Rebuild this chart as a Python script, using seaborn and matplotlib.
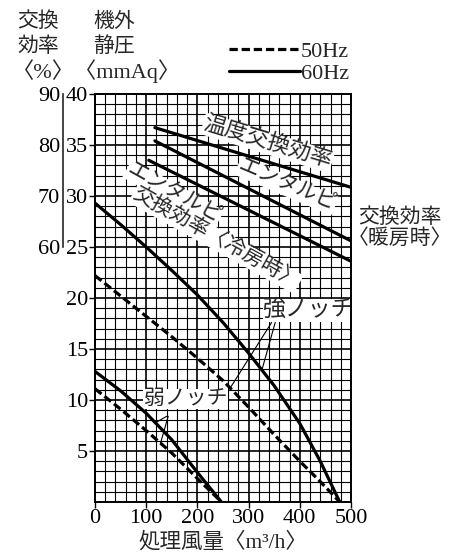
import matplotlib.pyplot as plt
import numpy as np
import pandas as pd
import seaborn as sns
from matplotlib.ticker import MultipleLocator

# 機外静圧 [mmAq] ― 処理風量 [m3/h]
flow_strong = [0, 50, 100, 150, 200, 250, 300, 350, 400, 440, 478]
sp_strong_60 = [29.3, 27.2, 25.0, 22.7, 20.3, 17.6, 14.6, 11.4, 7.7, 4.0, 0]
sp_strong_50 = [22.2, 20.2, 18.2, 16.2, 14.1, 11.9, 9.3, 6.6, 4.0, 2.0, 0]
flow_weak = [0, 50, 100, 150, 200, 247]
sp_weak_60 = [12.8, 10.9, 8.7, 6.1, 2.9, 0]
sp_weak_50 = [11.1, 9.1, 7.0, 4.8, 2.3, 0]

# 交換効率 [%]
flow_temp = [117, 500]
eff_temp = [83.4, 71.7]
flow_heat = [117, 500]
eff_heat = [80.8, 61.2]
flow_cool = [105, 500]
eff_cool = [77.0, 57.2]

freq_order = ["50Hz", "60Hz"]

sp_rows = []
for notch, hz, flows, vals in [("強", "60Hz", flow_strong, sp_strong_60),
                               ("強", "50Hz", flow_strong, sp_strong_50),
                               ("弱", "60Hz", flow_weak, sp_weak_60),
                               ("弱", "50Hz", flow_weak, sp_weak_50)]:
    for f, v in zip(flows, vals):
        sp_rows.append({"風量": f, "静圧": v, "curve": notch + hz, "周波数": hz})
df_sp = pd.DataFrame(sp_rows)

eff_rows = []
for name, flows, vals in [("温度", flow_temp, eff_temp),
                          ("暖房", flow_heat, eff_heat),
                          ("冷房", flow_cool, eff_cool)]:
    for f, v in zip(flows, vals):
        eff_rows.append({"風量": f, "効率": v, "curve": name})
df_eff = pd.DataFrame(eff_rows)

sns.set_style("ticks")
plt.rcParams["font.family"] = ["Liberation Serif", "Noto Sans CJK JP"]
plt.rcParams["axes.unicode_minus"] = False

fig = plt.figure(figsize=(4.6, 5.6), dpi=100)
ax = fig.add_axes([0.2065, 0.1036, 0.5565, 0.7286])

sns.lineplot(data=df_sp, x="風量", y="静圧", units="curve", style="周波数",
             style_order=freq_order, dashes={"50Hz": (2.6, 1.2), "60Hz": ""},
             estimator=None, sort=False, color="black", lw=2.3, ax=ax, zorder=3)

ax.set_xlim(0, 500)
ax.set_ylim(0, 40)
ax.set_xticks(range(0, 501, 100))
ax.set_yticks(range(5, 41, 5))
ax.xaxis.set_minor_locator(MultipleLocator(20))
ax.yaxis.set_minor_locator(MultipleLocator(1))
ax.set_axisbelow(True)
ax.grid(which="major", color="black", lw=1.2)
ax.grid(which="minor", color="black", lw=0.8)
ax.tick_params(which="major", direction="out", length=4, width=1, labelsize=16, pad=1, colors="black")
ax.tick_params(which="minor", length=0)
for s in ax.spines.values():
    s.set_linewidth(1.4)
    s.set_color("black")
ax.set_ylabel("")
ax.set_xlabel("処理風量〈m³/h〉", fontsize=15.5, labelpad=3)

# 凡例
sns.move_legend(ax, "upper left", bbox_to_anchor=(0.497, 0.926), bbox_transform=fig.transFigure,
                title="", frameon=False, fontsize=16, handlelength=3.2, handletextpad=0.05,
                labelspacing=0.05, borderpad=0, borderaxespad=0)

# 交換効率の目盛 (左の括弧)
ax_eff = ax.twinx()
sns.lineplot(data=df_eff, x="風量", y="効率", units="curve", estimator=None, sort=False,
             color="black", lw=2.3, ax=ax_eff, legend=False)
ax_eff.set_ylim(10, 90)
ax_eff.set_xlim(0, 500)
ax_eff.set_ylabel("")
ax_eff.set_xlabel("")
ax_eff.yaxis.set_ticks_position("left")
ax_eff.yaxis.set_label_position("left")
for k in ["right", "top", "bottom"]:
    ax_eff.spines[k].set_visible(False)
ax_eff.spines["left"].set_position(("axes", -0.125))
ax_eff.spines["left"].set_bounds(60, 90)
ax_eff.spines["left"].set_linewidth(1.2)
ax_eff.set_yticks([60, 70, 80, 90])
ax_eff.set_yticks([60, 90], minor=True)
ax_eff.tick_params(which="major", length=0, pad=2, labelsize=16, colors="black")
ax_eff.tick_params(which="minor", direction="in", length=4, width=1.2)

# 曲線ラベル
box = dict(facecolor="white", edgecolor="none", pad=0.5)
lab = dict(ha="center", va="center", rotation_mode="anchor", bbox=box, zorder=1.5)
ax.text(337, 35.2, "温度交換効率", rotation=-17, fontsize=16, **lab)
ax.text(374, 31.0, "エンタルピ", rotation=-23, fontsize=15, **lab)
ax.text(153, 30.2, "エンタルピ", rotation=-29, fontsize=15, **lab)
ax.text(236, 25.8, "交換効率〈冷房時〉", rotation=-29, fontsize=15, **lab)
ax.text(596, 26.8, "交換効率\n〈暖房時〉", ha="center", va="center", fontsize=15,
        linespacing=1.1, clip_on=False)
ax.text(418, 18.8, "強ノッチ", fontsize=16.5, ha="center", va="center", bbox=box, zorder=1.5,
        clip_on=False)
ax.text(177, 10.1, "弱ノッチ", fontsize=15, ha="center", va="center", bbox=box, zorder=1.5)

# 引出線
for x0, x1, flows, vals in [(345, 264, flow_strong, sp_strong_50),
                            (352, 326, flow_strong, sp_strong_60)]:
    ax.annotate("", xy=(x1, np.interp(x1, flows, vals)), xytext=(x0, 17.6),
                arrowprops=dict(arrowstyle="-", lw=0.8, color="black", shrinkA=0, shrinkB=0))
for x0, x1, flows, vals in [(140, 118, flow_weak, sp_weak_60),
                            (143, 128, flow_weak, sp_weak_50)]:
    ax.annotate("", xy=(x1, np.interp(x1, flows, vals)), xytext=(x0, 8.4),
                arrowprops=dict(arrowstyle="-", lw=0.8, color="black", shrinkA=0, shrinkB=0))

# 軸見出し
fig.text(17 / 460, 1 - 22 / 560, "交換", fontsize=15, va="center")
fig.text(17 / 460, 1 - 47 / 560, "効率", fontsize=15, va="center")
fig.text(93 / 460, 1 - 22 / 560, "機外", fontsize=15, va="center")
fig.text(93 / 460, 1 - 47 / 560, "静圧", fontsize=15, va="center")
fig.text(12 / 460, 1 - 71 / 560, "〈%〉〈mmAq〉", fontsize=16, va="center")

plt.savefig("out.png", dpi=100)
plt.close()
